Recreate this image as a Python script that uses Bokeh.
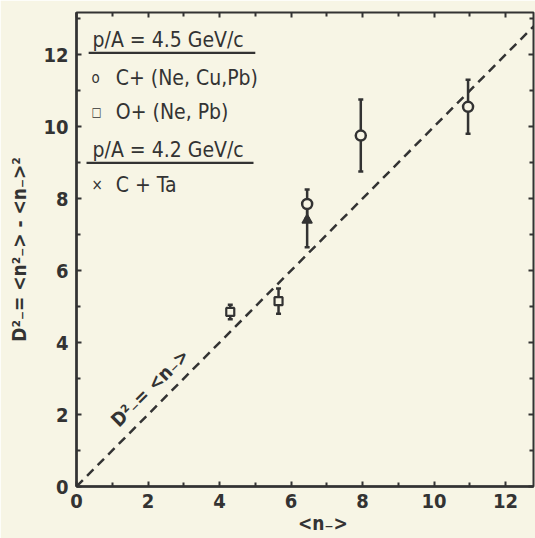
from bokeh.plotting import figure
from bokeh.models import (Range1d, FixedTicker, LinearAxis, Whisker, TeeHead, ColumnDataSource,
                          Slope, Label, BoxAnnotation)
from bokeh.embed import file_html
from bokeh.resources import INLINE
import math

# ---- data ----
c_x = [6.45, 7.95, 10.95]          # C+(Ne,Cu,Pb)
c_y = [7.85, 9.75, 10.55]
c_err = [0.4, 1.0, 0.75]

o_x = [4.3, 5.65]                  # O+(Ne,Pb)
o_y = [4.85, 5.15]
o_err = [0.2, 0.35]

t_x = [6.45]                       # C+Ta
t_y = [7.4]
t_lo = [0.75]
t_hi = [0.5]

x_ticks = [0, 2, 4, 6, 8, 10, 12]
y_ticks = [0, 2, 4, 6, 8, 10, 12]

BG = "#f7f5e5"
INK = "#333333"
FONT = "DejaVu Sans Condensed"

p = figure(width=535, height=538, output_backend="svg", toolbar_location=None,
           x_range=Range1d(0, 12.78), y_range=Range1d(0, 13.17),
           background_fill_color=BG, border_fill_color=BG,
           min_border_left=76, min_border_right=2, min_border_top=12, min_border_bottom=52)
p.grid.visible = False
p.outline_line_color = INK
p.outline_line_width = 2

for ax in (p.xaxis[0], p.yaxis[0]):
    ax.axis_line_color = INK
    ax.axis_line_width = 2.5
    ax.major_tick_in = 5
    ax.major_tick_out = 0
    ax.minor_tick_in = 4
    ax.minor_tick_out = 0
    ax.major_tick_line_color = INK
    ax.minor_tick_line_color = INK
    ax.major_tick_line_width = 2
    ax.minor_tick_line_width = 2
    ax.major_label_text_font = FONT
    ax.major_label_text_font_size = "20px"
    ax.major_label_text_font_style = "bold"
    ax.major_label_text_color = INK
    ax.axis_label_text_font = FONT
    ax.axis_label_text_font_size = "19px"
    ax.axis_label_text_font_style = "bold"
    ax.axis_label_text_color = INK

p.xaxis[0].ticker = FixedTicker(ticks=x_ticks, minor_ticks=[1, 3, 5, 7, 9, 11])
p.yaxis[0].ticker = FixedTicker(ticks=y_ticks, minor_ticks=[1, 3, 5, 7, 9, 11, 13])
p.xaxis[0].axis_label = "\u00a0\u00a0\u00a0\u00a0\u00a0\u00a0<n₋>"
p.yaxis[0].axis_label = "D²₋= <n²₋> - <n₋>²"
p.xaxis[0].major_label_standoff = 7
p.yaxis[0].major_label_standoff = 8
p.xaxis[0].axis_label_standoff = 1
p.yaxis[0].axis_label_standoff = 10

# top / right tick marks
for loc in ("above", "right"):
    a = LinearAxis(ticker=FixedTicker(ticks=x_ticks, minor_ticks=[1, 3, 5, 7, 9, 11, 13]))
    a.major_label_text_color = None
    a.major_label_text_font_size = "0px"
    a.axis_line_color = None
    a.major_tick_in = 5
    a.major_tick_out = 0
    a.minor_tick_in = 4
    a.minor_tick_out = 0
    a.major_tick_line_color = INK
    a.minor_tick_line_color = INK
    a.major_tick_line_width = 2
    a.minor_tick_line_width = 2
    p.add_layout(a, loc)

# D^2 = <n> line
p.add_layout(Slope(gradient=1, y_intercept=0, line_color=INK, line_width=2.5, line_dash="9 6"))

# error bars
def err_src(x, y, lo, hi):
    return ColumnDataSource(dict(x=x, lower=[a - b for a, b in zip(y, lo)], upper=[a + b for a, b in zip(y, hi)]))

for src in (err_src(c_x, c_y, c_err, c_err), err_src(o_x, o_y, o_err, o_err), err_src(t_x, t_y, t_lo, t_hi)):
    w = Whisker(source=src, base="x", lower="lower", upper="upper", line_color=INK, line_width=2.5,
                upper_head=TeeHead(size=5, line_color=INK, line_width=2.5),
                lower_head=TeeHead(size=5, line_color=INK, line_width=2.5))
    p.add_layout(w)

p.scatter(c_x, c_y, marker="circle", size=10, fill_color=BG, line_color=INK, line_width=2.5)
p.scatter(o_x, o_y, marker="square", size=8, fill_color=BG, line_color=INK, line_width=2.2)
p.scatter(t_x, t_y, marker="triangle", size=10, fill_color=INK, line_color=INK, line_width=1.5)

# legend block (custom, as in the original)
def lab(x, y, t, size="21px"):
    p.add_layout(Label(x=x, y=y, text=t, text_font=FONT, text_font_size=size, text_color=INK,
                       text_baseline="middle", text_align="left"))

lab(0.45, 12.4, "p/A = 4.5 GeV/c")
p.add_layout(BoxAnnotation(left=0.34, right=5.0, bottom=12.02, top=12.08, fill_color=INK, fill_alpha=1, line_color=None))
lab(0.42, 11.35, "o", "15px")
lab(1.1, 11.35, "C+ (Ne, Cu,Pb)")
lab(0.42, 10.4, "□", "12px")
lab(1.1, 10.4, "O+ (Ne, Pb)")
lab(0.45, 9.35, "p/A = 4.2 GeV/c")
p.add_layout(BoxAnnotation(left=0.28, right=4.95, bottom=8.96, top=9.02, fill_color=INK, fill_alpha=1, line_color=None))
lab(0.42, 8.38, "×", "15px")
lab(1.1, 8.38, "C + Ta")

p.add_layout(Label(x=2.05, y=2.75, text="D²₋= <n₋>", angle=math.pi / 4, text_font=FONT,
                   text_font_size="19px", text_font_style="bold", text_color=INK,
                   text_align="center", text_baseline="middle"))

open("out.html", "w").write(file_html(p, INLINE))
